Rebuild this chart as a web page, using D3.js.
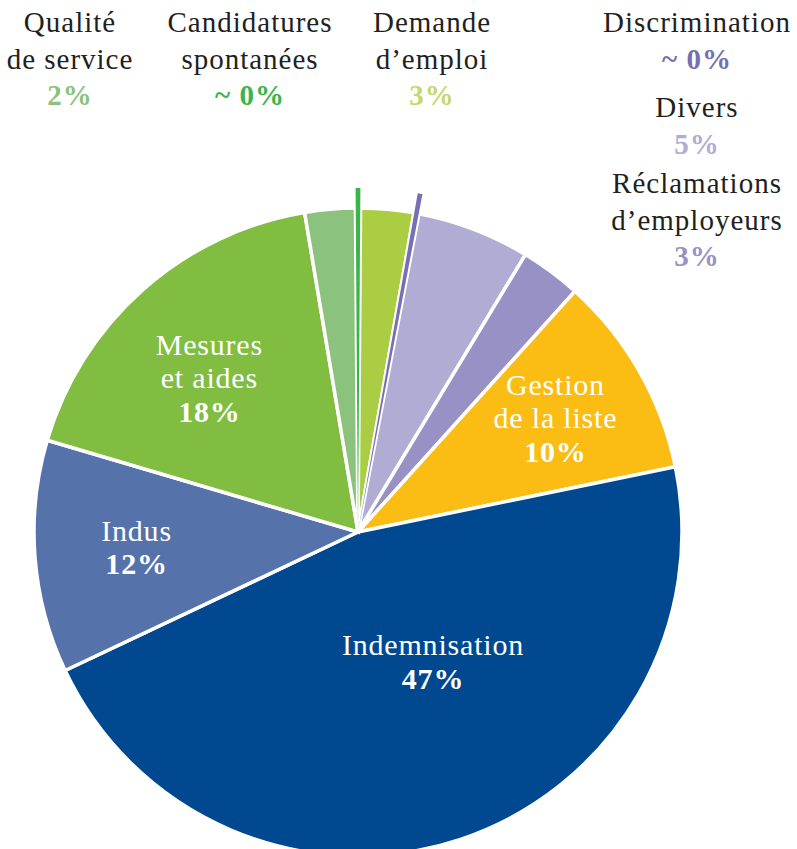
<!DOCTYPE html>
<html>
<head>
<meta charset="utf-8">
<script src="https://cdn.jsdelivr.net/npm/d3@7"></script>
<style>body { margin: 0; background: #fff; }</style>
</head>
<body>
<div id="chart"></div>
<script>

  // ---------------------------//
  //            DATA            //
  // ---------------------------//

  // clockwise from 12 o'clock
  var categories = ["Candidatures spontanées", "Demande d’emploi", "Discrimination", "Divers",
    "Réclamations d’employeurs", "Gestion de la liste", "Indemnisation", "Indus",
    "Mesures et aides", "Qualité de service"];
  var shares = [0.25, 2.64, 0.25, 5.63, 3.03, 10.1, 46.2, 11.6, 17.8, 2.51];
  var pctLabels = ["~ 0%", "3%", "~ 0%", "5%", "3%", "10%", "47%", "12%", "18%", "2%"];
  var colors = ["#3ab54a", "#abcd43", "#7570b3", "#b1acd4", "#9891c6",
    "#fbbc14", "#004990", "#5672ab", "#80bd41", "#8bc27d"];
  var pctColors = ["#3ab54a", "#c3d96b", "#7570b3", "#b1acd4", "#9891c6",
    "#fff", "#fff", "#fff", "#fff", "#8bc27d"];
  var labelLines = [["Candidatures", "spontanées"], ["Demande", "d’emploi"], ["Discrimination"], ["Divers"],
    ["Réclamations", "d’employeurs"], ["Gestion", "de la liste"], ["Indemnisation"], ["Indus"],
    ["Mesures", "et aides"], ["Qualité", "de service"]];
  var thinSlices = ["Candidatures spontanées", "Discrimination"];

  // ---------------------------//
  //         DIMENSIONS         //
  // ---------------------------//

  var width = 797;
  var height = 849;
  var cx = 358, cy = 532;
  var radius = 324;
  var thinRadius = 344;
  var deg = Math.PI / 180;

  var svg = d3.select("#chart")
    .append("svg")
    .attr("width", width)
    .attr("height", height);

  var data = categories.map(function(c, i) {
    return { name: c, value: shares[i], color: colors[i], pct: pctLabels[i],
      pctColor: pctColors[i], lines: labelLines[i] };
  });

  var pie = d3.pie()
    .sort(null)
    .value(function(d) { return d.value; })
    .startAngle(-0.45 * deg)
    .endAngle(359.55 * deg);

  var arcs = pie(data);

  var arc = d3.arc()
    .innerRadius(0)
    .outerRadius(function(d) { return thinSlices.indexOf(d.data.name) >= 0 ? thinRadius : radius; });

  var g = svg.append("g").attr("transform", "translate(" + cx + "," + cy + ")");

  g.selectAll("path")
    .data(arcs)
    .enter()
    .append("path")
    .attr("d", arc)
    .attr("fill", function(d) { return d.data.color; })
    .attr("stroke", "#fff")
    .attr("stroke-width", 3.5)
    .attr("stroke-linejoin", "miter");

  // thin slices drawn again on top so the white border doesn't eat them
  g.selectAll("path.thin")
    .data(arcs.filter(function(d) { return thinSlices.indexOf(d.data.name) >= 0; }))
    .enter()
    .append("path")
    .attr("class", "thin")
    .attr("d", d3.arc().innerRadius(0).outerRadius(thinRadius)
      .startAngle(function(d) { return (d.startAngle + d.endAngle) / 2 - 0.4 * deg; })
      .endAngle(function(d) { return (d.startAngle + d.endAngle) / 2 + 0.4 * deg; }))
    .attr("fill", function(d) { return d.data.color; });

  // ---------------------------//
  //           LABELS           //
  // ---------------------------//

  function addLabel(x, y, lines, size, lead, spacing, textColor, pctColor) {
    var t = svg.append("text")
      .attr("x", x)
      .attr("y", y)
      .attr("text-anchor", "middle")
      .attr("font-family", "Liberation Serif")
      .style("font-family", "'Liberation Serif'")
      .style("font-size", size + "px")
      .style("letter-spacing", spacing + "px");
    lines.forEach(function(l, i) {
      var last = i === lines.length - 1;
      t.append("tspan")
        .attr("x", x)
        .attr("y", y + i * lead)
        .attr("fill", last ? pctColor : textColor)
        .style("font-weight", last ? "bold" : "normal")
        .text(l);
    });
  }

  // polar position (angle deg, radius) of each inside label
  var innerPos = {
    "Gestion de la liste": [60, 228],
    "Indemnisation": [150, 150],
    "Indus": [266, 222],
    "Mesures et aides": [316, 214]
  };

  Object.keys(innerPos).forEach(function(name) {
    var d = data.find(function(e) { return e.name === name; });
    var a = innerPos[name][0] * deg, r = innerPos[name][1];
    var x = cx + r * Math.sin(a), y = cy - r * Math.cos(a);
    var lines = d.lines.concat([d.pct]);
    var lead = 33.5;
    addLabel(x, y - (lines.length - 1) * lead / 2 + 10, lines, 30, lead, 0.8, "#fff", "#fff");
  });

  // outside labels: centre x and first baseline
  var outerPos = {
    "Qualité de service": [70, 32],
    "Candidatures spontanées": [250, 32],
    "Demande d’emploi": [432, 32],
    "Discrimination": [697, 32],
    "Divers": [697, 117],
    "Réclamations d’employeurs": [697, 193]
  };

  Object.keys(outerPos).forEach(function(name) {
    var d = data.find(function(e) { return e.name === name; });
    addLabel(outerPos[name][0], outerPos[name][1], d.lines.concat([d.pct]), 29, 36.5, 1, "#231f20", d.pctColor);
  });

</script>
</body>
</html>
